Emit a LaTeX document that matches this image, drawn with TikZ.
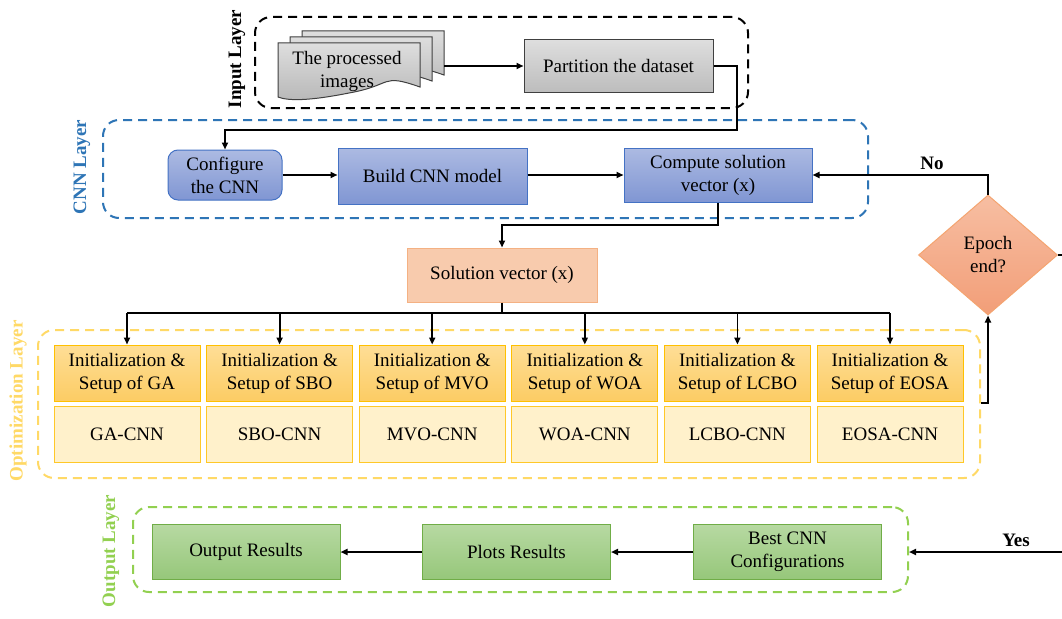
\documentclass[tikz,border=0pt]{standalone}
\usepackage{fontspec}
\setmainfont{Liberation Serif}
\usetikzlibrary{arrows.meta,shapes.geometric}
\definecolor{cnnblue}{HTML}{2E75B6}
\definecolor{optyel}{HTML}{FFD966}
\definecolor{outgreen}{HTML}{92D050}
\tikzset{
  base/.style={draw, line width=1pt, inner sep=0pt, align=center, text=black},
  graybox/.style={base, draw=black!75, top color=black!13, bottom color=black!26},
  bluebox/.style={base, draw={rgb,255:red,68;green,114;blue,196}, top color={rgb,255:red,172;green,186;blue,226}, bottom color={rgb,255:red,128;green,150;blue,211}},
  solbox/.style={base, draw={rgb,255:red,244;green,177;blue,131}, fill={rgb,255:red,248;green,203;blue,173}},
  initbox/.style={base, draw={rgb,255:red,255;green,192;blue,0}, top color={rgb,255:red,254;green,222;blue,150}, bottom color={rgb,255:red,252;green,204;blue,100}, minimum width=146pt, minimum height=56pt},
  ocnnbox/.style={base, draw={rgb,255:red,255;green,200;blue,40}, fill={rgb,255:red,255;green,241;blue,203}, minimum width=146pt, minimum height=56pt},
  greenbox/.style={base, draw={rgb,255:red,112;green,173;blue,71}, top color={rgb,255:red,183;green,217;blue,162}, bottom color={rgb,255:red,150;green,199;blue,122}, minimum width=188pt, minimum height=55pt},
  decbox/.style={base, diamond, draw={rgb,255:red,244;green,164;blue,112}, top color={rgb,255:red,247;green,190;blue,162}, bottom color={rgb,255:red,242;green,158;blue,120}, minimum width=139pt, minimum height=120pt, aspect=1.16},
  layer/.style={draw, dashed, dash pattern=on 9pt off 6pt, line width=2pt, rounded corners=16pt, inner sep=0pt},
  laylab/.style={rotate=90, font=\fontsize{19}{23}\selectfont\bfseries, inner sep=0pt},
  line/.style={draw=black, line width=1.8pt},
  arr/.style={line, -{Triangle[length=7pt,width=6pt]}},
  docstyle/.style={draw=black!75, line width=1pt, top color=black!13, bottom color=black!28},
}
\begin{document}
\begin{tikzpicture}[x=1pt,y=-1pt, font=\fontsize{19}{23}\selectfont]
\useasboundingbox (0,0) rectangle (1062,618);
\fill[white] (0,0) rectangle (1062,618);

% ---- Input layer
\node[layer, draw=black, minimum width=493pt, minimum height=91pt] (inbox) at (501.5,62.5) {};
\node[laylab] (inlab) at (237,59) {Input Layer};
\foreach \dx/\dy in {24/-12,12/-6,0/0}{
  \path[docstyle] (278+\dx,43+\dy) -- ++(142,0) -- ++(0,44)
     .. controls ++(-40,-14) and ++(45,-8) .. ++(-71,6)
     .. controls ++(-40,8) and ++(10,4) .. ++(-71,4) -- cycle;
}
\node[inner sep=0pt, minimum width=166pt, minimum height=64pt] (docs) at (361,63) {};
\node[align=center, inner sep=0pt] (doctext) at (347,71) {The processed\\images};
\node[graybox, minimum width=189pt, minimum height=52pt] (part) at (618.5,66) {Partition the dataset};
\draw[arr] (docs.east |- part.west) -- (part.west);

% ---- CNN layer
\node[layer, draw=cnnblue, minimum width=765pt, minimum height=98pt] (cnnbox) at (485.5,169) {};
\node[laylab, text=cnnblue] (cnnlab) at (82,167) {CNN Layer};
\node[bluebox, rounded corners=10pt, minimum width=114pt, minimum height=50pt] (conf) at (225,175) {Configure\\the CNN};
\node[bluebox, minimum width=189pt, minimum height=56pt] (build) at (432.5,176) {Build CNN model};
\node[bluebox, minimum width=188pt, minimum height=54pt] (comp) at (718,175) {Compute solution\\vector (x)};
\coordinate (c1) at (737,130);
\draw[arr] (part.east) -| (c1) -| (conf.north);
\draw[arr] (conf.east) -- (conf.east -| build.west);
\draw[arr] (build.east |- comp.west) -- (comp.west);

% ---- Solution vector
\node[solbox, minimum width=190pt, minimum height=54pt] (sol) at (502,275) {Solution vector (x)};
\coordinate (c2) at (502,225);
\draw[arr] (comp.south) |- (c2) -- (sol.north);

% ---- Optimization layer
\node[layer, draw=optyel, minimum width=942pt, minimum height=148pt] (optbox) at (509,404) {};
\node[laylab, text=optyel] (optlab) at (18,401) {Optimization Layer};
\foreach \k/\n in {0/GA,1/SBO,2/MVO,3/WOA,4/LCBO,5/EOSA}{
  \node[initbox] (i\k) at (127+152.6*\k,373) {Initialization \&\\Setup of \n};
  \node[ocnnbox] (o\k) at (127+152.6*\k,434) {\n-CNN};
}
\coordinate (bus) at (502,313);
\draw[line] (sol.south) -- (bus);
\draw[line] (i0.north |- bus) -- (i5.north |- bus);
\foreach \k in {0,...,5}{ \draw[arr] (i\k.north |- bus) -- (i\k.north); }

% ---- Decision
\node[decbox] (ep) at (988,255) {Epoch\\end?};
\coordinate (c3) at (981,403);
\draw[arr] (c3) -| (ep.south);
\draw[arr] (ep.north) |- (comp.east);
\node[font=\fontsize{19}{23}\selectfont\bfseries, inner sep=0pt] (nolab) at (932,163) {No};

% ---- Output layer
\node[layer, draw=outgreen, minimum width=775pt, minimum height=85pt] (outbox) at (520.5,549.5) {};
\node[laylab, text=outgreen] (outlab) at (111,551) {Output Layer};
\node[greenbox] (ores) at (246,552) {Output Results};
\node[greenbox] (plots) at (516.5,552) {Plots Results};
\node[greenbox] (best) at (787.5,552) {Best CNN\\Configurations};
\draw[arr] (best.west) -- (plots.east);
\draw[arr] (plots.west) -- (ores.east);
\coordinate (c4) at (1068,552);
\draw[arr] (ep.east) -| (c4) -- (outbox.east |- c4);
\node[font=\fontsize{19}{23}\selectfont\bfseries, inner sep=0pt] (yeslab) at (1016,540) {Yes};
\end{tikzpicture}
\end{document}
